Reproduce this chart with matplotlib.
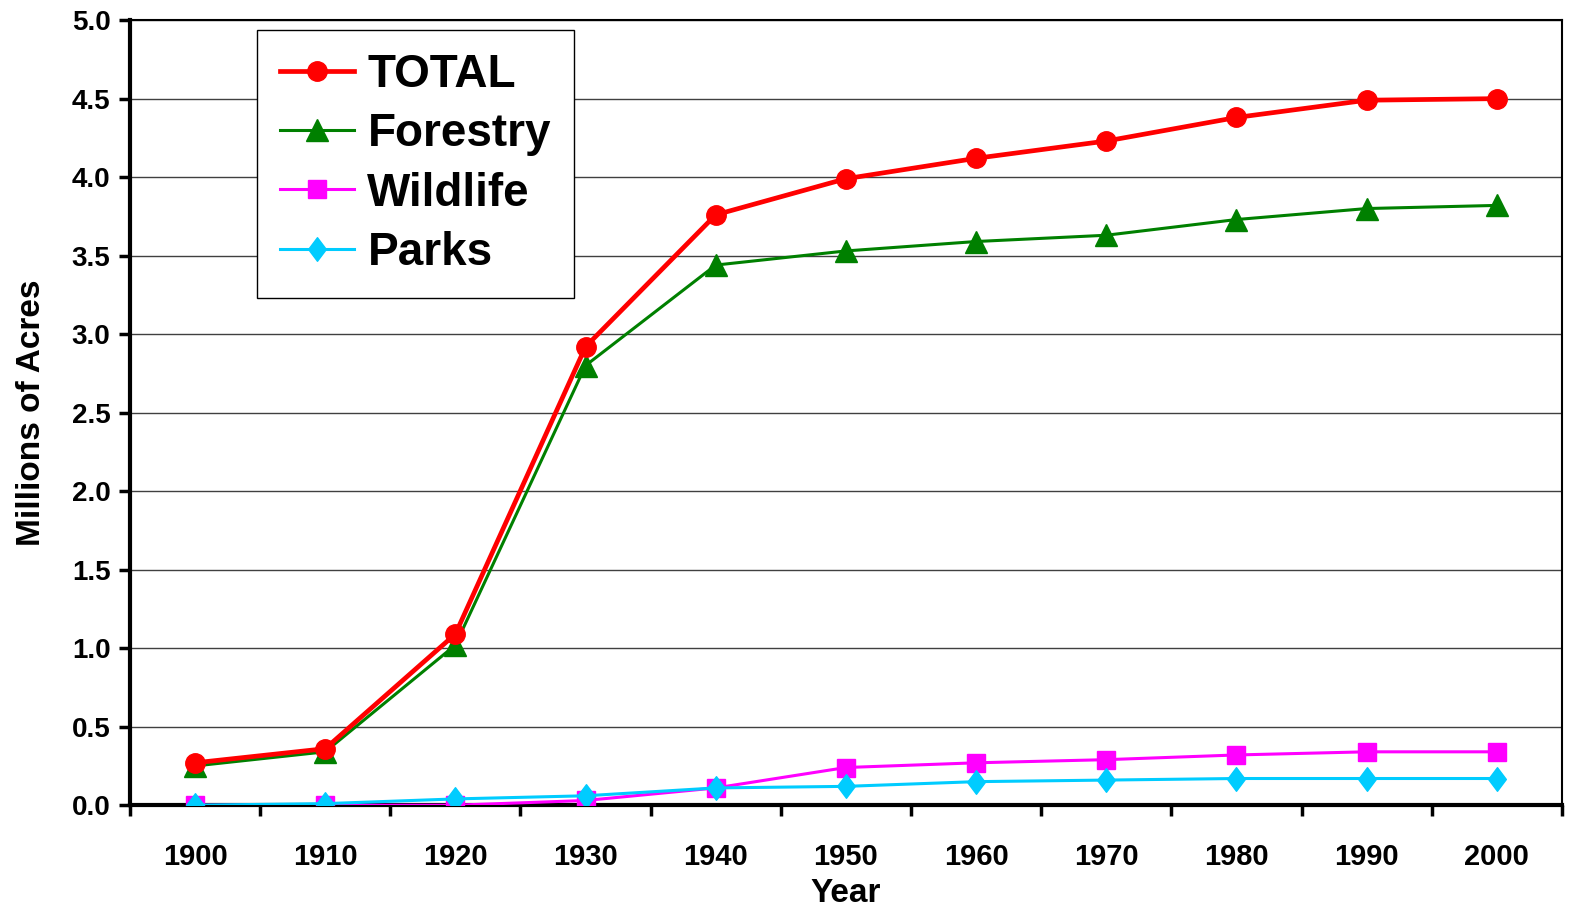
import matplotlib
matplotlib.use("Agg")
import matplotlib.pyplot as plt
from matplotlib.path import Path

plt.rcParams['font.family'] = ['Liberation Sans', 'DejaVu Sans']
plt.rcParams['font.weight'] = 'bold'

years = ['1900', '1910', '1920', '1930', '1940', '1950',
         '1960', '1970', '1980', '1990', '2000']
total = [0.27, 0.36, 1.09, 2.92, 3.76, 3.99, 4.12, 4.23, 4.38, 4.49, 4.50]
forestry = [0.25, 0.34, 1.02, 2.80, 3.44, 3.53, 3.59, 3.63, 3.73, 3.80, 3.82]
wildlife = [0.0, 0.0, 0.0, 0.03, 0.11, 0.24, 0.27, 0.29, 0.32, 0.34, 0.34]
parks = [0.0, 0.01, 0.04, 0.06, 0.11, 0.12, 0.15, 0.16, 0.17, 0.17, 0.17]

# diamond a bit taller than wide, like the original
diamond = Path([(0, 1), (0.75, 0), (0, -1), (-0.75, 0), (0, 1)],
               [Path.MOVETO, Path.LINETO, Path.LINETO, Path.LINETO, Path.CLOSEPOLY])

fig = plt.figure(figsize=(15.77, 9.15), dpi=100)
ax = fig.add_axes([0.0824, 0.120, 0.908, 0.858])
x = list(range(len(years)))

ax.plot(x, total, color='#ff0000', lw=3.4, marker='o', ms=14, label='TOTAL', zorder=5)
ax.plot(x, forestry, color='#008000', lw=2.2, marker='^', ms=16, label='Forestry', zorder=4)
ax.plot(x, wildlife, color='#ff00ff', lw=2.2, marker='s', ms=13, label='Wildlife', zorder=3)
ax.plot(x, parks, color='#00ccff', lw=2.2, marker=diamond, ms=17, label='Parks', zorder=3)

ax.set_xlim(-0.5, len(years) - 0.5)
ax.set_ylim(0, 5.0)
ax.set_yticks([i * 0.5 for i in range(11)])
ax.set_yticklabels(['%.1f' % (i * 0.5) for i in range(11)])
ax.set_xticks(x)
ax.set_xticklabels(years)
ax.set_xticks([i - 0.5 for i in range(len(years) + 1)], minor=True)
ax.tick_params(axis='x', which='major', length=0, pad=27, labelsize=21)
ax.tick_params(axis='x', which='minor', length=8, width=2.5, direction='out')
ax.tick_params(axis='y', length=8, width=2.5, direction='out', labelsize=20, pad=6)

ax.yaxis.grid(True, color='#404040', lw=1)
ax.set_axisbelow(True)
for side in ['left', 'bottom']:
    ax.spines[side].set_linewidth(3)
for side in ['top', 'right']:
    ax.spines[side].set_linewidth(1.5)

ax.set_xlabel('Year', fontsize=24, fontweight='bold', labelpad=5)
ax.set_ylabel('Millions of Acres', fontsize=24, fontweight='bold', labelpad=18)

leg = ax.legend(loc='upper left', bbox_to_anchor=(0.089, 0.987), fontsize=33,
                frameon=True, fancybox=False, edgecolor='black', framealpha=1,
                handlelength=1.6, handletextpad=0.3, labelspacing=0.33,
                borderpad=0.5, borderaxespad=0)
leg.get_frame().set_linewidth(1)
for t in leg.get_texts():
    t.set_fontweight('bold')

fig.savefig('out.png', dpi=100)
